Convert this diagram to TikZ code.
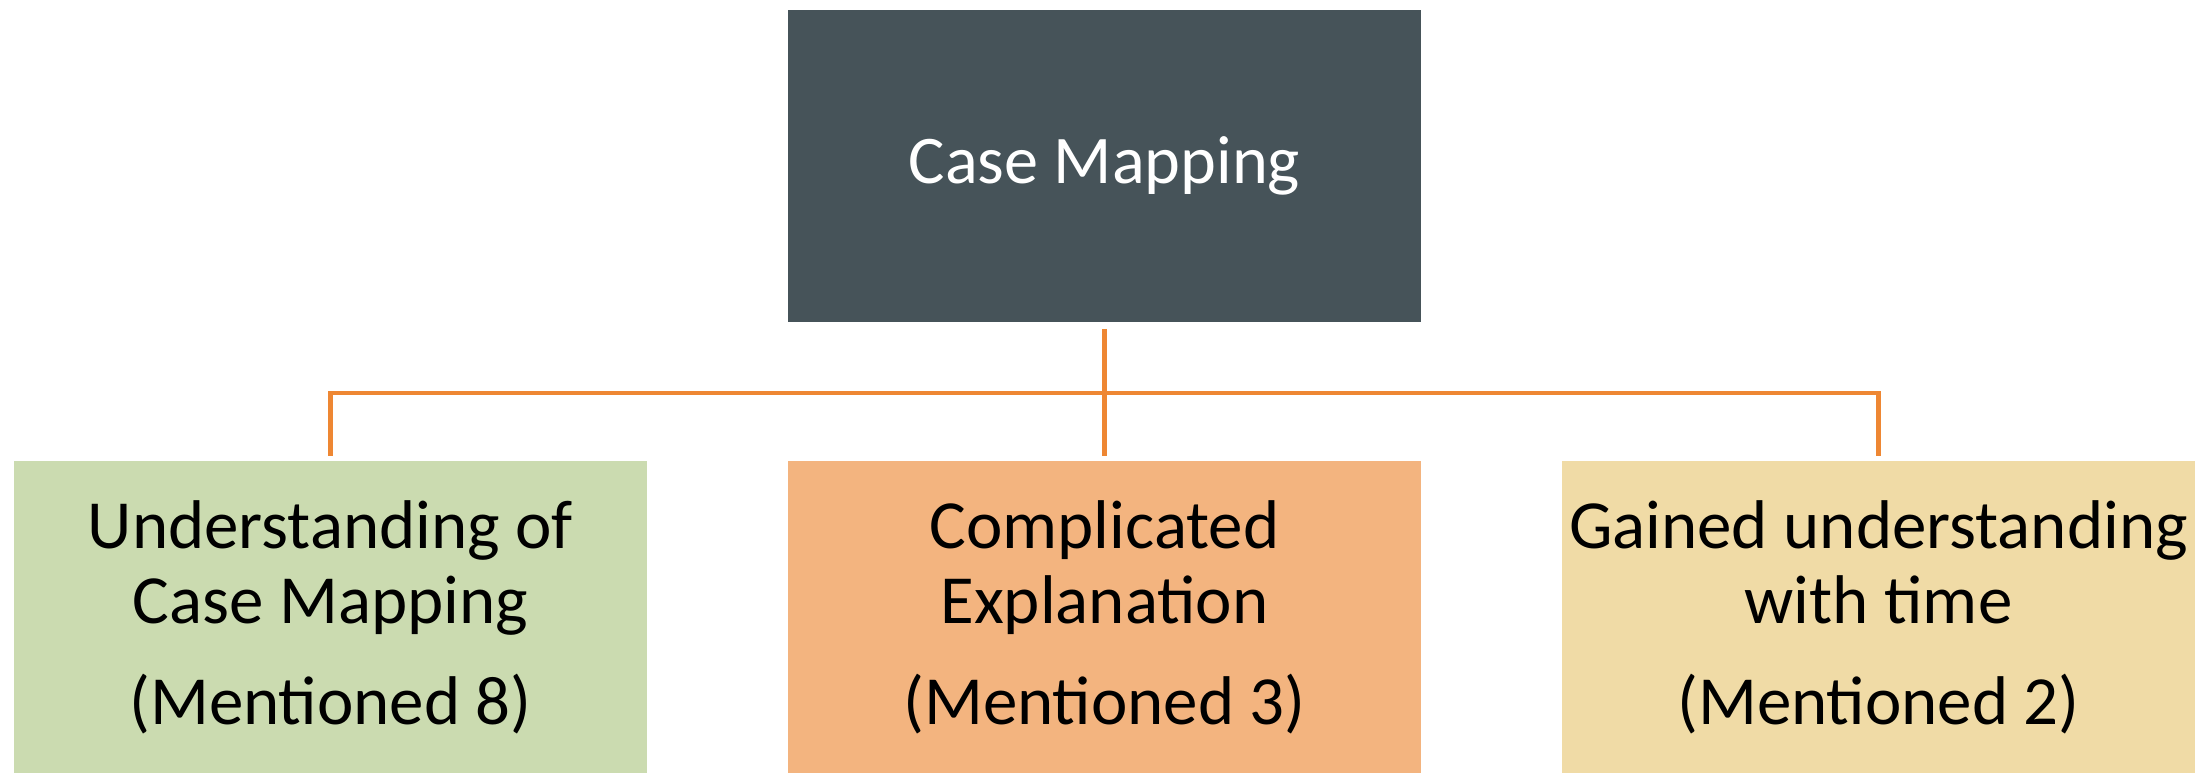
\documentclass[tikz,border=0pt]{standalone}
\usepackage{fontspec}
\setmainfont{Carlito}
\usepackage{tikz}

\definecolor{slate}{HTML}{465359}
\definecolor{sage}{HTML}{CBDBB0}
\definecolor{peach}{HTML}{F3B47F}
\definecolor{sand}{HTML}{F0DBA6}
\definecolor{wire}{HTML}{EE8733}

\begin{document}
\begin{tikzpicture}
      [x=0.01cm,y=0.01cm,
       box/.style={rectangle,inner sep=0pt,minimum width=6.33cm,minimum height=3.12cm,align=center},
       top node/.style={box,fill=slate,text=white,font=\fontsize{19.4}{22}\selectfont},
       leaf node/.style={box,text=black,font=\fontsize{19.6}{21.5}\selectfont},
       link/.style={draw=wire,line width=1.4pt}]
        \useasboundingbox (0,0) rectangle (2206,773);

        \node[top node] (root) at (1104.5,607) {Case Mapping};
        \node[leaf node,fill=sage] (understand) at (330.5,156) {Understanding of\\Case Mapping\\[7pt](Mentioned 8)};
        \node[leaf node,fill=peach] (complicated) at (1104.5,156) {Complicated\\Explanation\\[7pt](Mentioned 3)};
        \node[leaf node,fill=sand] (gained) at (1878.5,156) {Gained understanding\\with time\\[7pt](Mentioned 2)};

        \coordinate (bus) at (1104.5,380);

        \draw[link,shorten <=1.7pt,shorten >=1.2pt] (root.south) -- (complicated.north);
        \draw[link,shorten <=1.2pt,shorten >=1.2pt] (understand.north) |- (bus) -| (gained.north);

      \end{tikzpicture}
\end{document}
